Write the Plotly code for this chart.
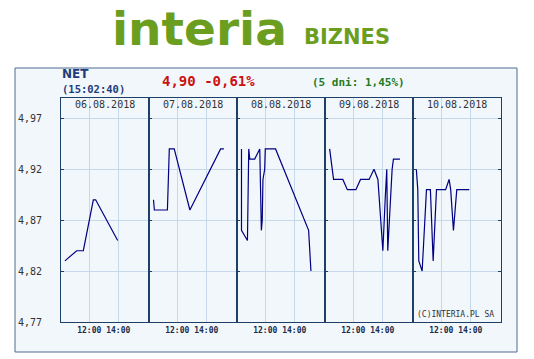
import plotly.graph_objects as go
from plotly.subplots import make_subplots

# ---- data (hours of day, price) ----
dates = ["06.08.2018", "07.08.2018", "08.08.2018", "09.08.2018", "10.08.2018"]

day1_t = [10.32, 11.13, 11.59, 12.28, 12.44, 13.96]
day1_v = [4.83, 4.84, 4.84, 4.89, 4.89, 4.85]

day2_t = [10.36, 10.42, 11.32, 11.34, 11.45, 11.79, 12.87, 14.99, 15.22]
day2_v = [4.89, 4.88, 4.88, 4.89, 4.94, 4.94, 4.88, 4.94, 4.94]

day3_t = [10.36, 10.36, 10.77, 10.81, 10.86, 10.93, 11.27, 11.62, 11.68, 11.73,
          11.79, 11.84, 11.96, 12.00, 12.71, 14.70, 14.99, 15.15]
day3_v = [4.94, 4.86, 4.85, 4.89, 4.94, 4.93, 4.93, 4.94, 4.90, 4.86,
          4.87, 4.91, 4.92, 4.94, 4.94, 4.87, 4.86, 4.82]

day4_t = [10.37, 10.64, 11.28, 11.59, 12.18, 12.50, 13.09, 13.43, 13.70, 13.88,
          14.04, 14.20, 14.31, 14.38, 14.54, 14.68, 14.77, 15.22]
day4_v = [4.94, 4.91, 4.91, 4.90, 4.90, 4.91, 4.91, 4.92, 4.91, 4.87,
          4.84, 4.89, 4.92, 4.84, 4.89, 4.92, 4.93, 4.93]

day5_t = [10.28, 10.38, 10.45, 10.68, 10.98, 11.25, 11.44, 11.67, 12.30, 12.54,
          12.65, 12.84, 13.07, 13.93]
day5_v = [4.92, 4.90, 4.83, 4.82, 4.90, 4.90, 4.83, 4.90, 4.90, 4.91,
          4.90, 4.86, 4.90, 4.90]

x_tickvals = [12, 14]
x_ticktext = ["12:00", "14:00"]
y_tickvals = [4.77, 4.82, 4.87, 4.92, 4.97]
y_ticktext = ["4,77", "4,82", "4,87", "4,92", "4,97"]

title_name = "NET"
title_time = "(15:02:40)"
price_text = "4,90 -0,61%"
week_text = "(5 dni: 1,45%)"
copyright_text = "(C)INTERIA.PL SA"

days_t = [day1_t, day2_t, day3_t, day4_t, day5_t]
days_v = [day1_v, day2_v, day3_v, day4_v, day5_v]

# ---- styles ----
BG = "#f2f7fc"
BORDER = "#1e3f66"
GRID = "#c6d9ea"
LINE = "#000080"
GREEN = "#6b9e1f"
W, H = 534, 359
L, R, T, B = 61, 33, 98, 37
PW = W - L - R
PH = H - T - B


def px_x(p):
    return (p - L) / PW


def px_y(p):
    return (H - B - p) / PH


fig = make_subplots(rows=1, cols=5, shared_yaxes=True, horizontal_spacing=0)

for i in range(5):
    fig.add_trace(go.Scatter(x=days_t[i], y=days_v[i], mode="lines",
                             line=dict(color=LINE, width=1.2),
                             showlegend=False, hoverinfo="skip"),
                  row=1, col=i + 1)
    fig.update_xaxes(range=[10.05, 16.12], tickvals=x_tickvals, ticktext=x_ticktext,
                     showgrid=True, gridcolor=GRID, gridwidth=1, zeroline=False,
                     showline=True, linecolor=BORDER, linewidth=1, mirror=True,
                     ticks="", tickfont=dict(family="DejaVu Sans Mono", size=8,
                                             color="#1a2a4a", weight="bold"),
                     row=1, col=i + 1)
    fig.update_yaxes(range=[4.77, 4.99], tickvals=y_tickvals, ticktext=y_ticktext,
                     showgrid=True, gridcolor=GRID, gridwidth=1, zeroline=False,
                     showline=True, linecolor=BORDER, linewidth=1,
                     mirror=("ticks" if i == 4 else True),
                     ticks="inside", ticklen=3, tickcolor=BORDER,
                     showticklabels=(i == 0),
                     tickfont=dict(family="DejaVu Sans Mono", size=10, color="#333333"),
                     row=1, col=i + 1)
    fig.add_annotation(text=dates[i], xref="paper", yref="paper",
                       x=(i + 0.5) / 5, y=px_y(104), xanchor="center", yanchor="middle",
                       showarrow=False,
                       font=dict(family="DejaVu Sans Mono", size=10, color="#333333"))

fig.update_yaxes(ticklabelstandoff=16, row=1, col=1)

# outer frame
fig.add_shape(type="rect", xref="paper", yref="paper",
              x0=px_x(15), x1=px_x(517), y0=px_y(352), y1=px_y(68),
              fillcolor=BG, line=dict(color="#4d6d8d", width=1), layer="below")

ann = [
    dict(text="<b>" + title_name + "</b>", x=px_x(60), y=px_y(74), xanchor="left",
         font=dict(family="DejaVu Sans", size=12, color="#1f3d7a")),
    dict(text="<b>" + title_time + "</b>", x=px_x(60), y=px_y(88.5), xanchor="left",
         font=dict(family="DejaVu Sans Mono", size=10.5, color="#1f3d7a")),
    dict(text="<b>" + price_text + "</b>", x=px_x(160), y=px_y(81), xanchor="left",
         font=dict(family="DejaVu Sans Mono", size=14, color="#cc1111")),
    dict(text="<b>" + week_text + "</b>", x=px_x(310), y=px_y(82), xanchor="left",
         font=dict(family="DejaVu Sans Mono", size=11, color="#237a23")),
    dict(text=copyright_text, x=px_x(496), y=px_y(314), xanchor="right",
         font=dict(family="DejaVu Sans Mono", size=8, color="#333333")),
    dict(text="<b>interia</b>", x=px_x(110), y=px_y(28), xanchor="left",
         font=dict(family="DejaVu Sans", size=47, color=GREEN, weight="bold")),
    dict(text="<b>BIZNES</b>", x=px_x(302), y=px_y(37), xanchor="left",
         font=dict(family="DejaVu Sans", size=21, color=GREEN, weight="bold")),
]
for a in ann:
    fig.add_annotation(xref="paper", yref="paper", yanchor="middle", showarrow=False, **a)

fig.update_layout(width=W, height=H, margin=dict(l=L, r=R, t=T, b=B),
                  paper_bgcolor="white", plot_bgcolor=BG)

fig.write_html("out.html")
